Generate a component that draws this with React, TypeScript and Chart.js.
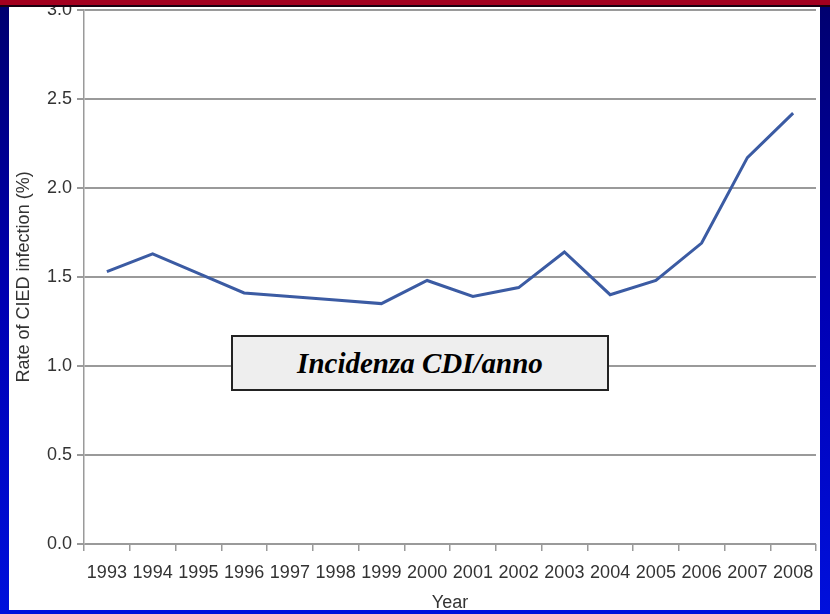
import React, { useEffect, useRef } from "react";
import { Chart, registerables } from "chart.js";

Chart.register(...registerables);

const years = ["1993","1994","1995","1996","1997","1998","1999","2000","2001","2002","2003","2004","2005","2006","2007","2008"];
const infectionRate = [1.53, 1.63, 1.52, 1.41, 1.39, 1.37, 1.35, 1.48, 1.39, 1.44, 1.64, 1.40, 1.48, 1.69, 2.17, 2.42];
const yTitle = "Rate of CIED infection (%)";
const xTitle = "Year";
const boxLabel = "Incidenza CDI/anno";

export default function App() {
  const ref = useRef<HTMLCanvasElement>(null);
  useEffect(() => {
    if (!ref.current) return;
    const font = { family: "'Liberation Sans', Arial, sans-serif", size: 18 };
    const chart = new Chart(ref.current, {
      type: "line",
      data: {
        labels: years,
        datasets: [{
          data: infectionRate,
          borderColor: "#3b5ba3",
          borderWidth: 3,
          pointRadius: 0,
          tension: 0,
          fill: false,
        }],
      },
      options: {
        animation: false,
        responsive: false,
        maintainAspectRatio: false,
        layout: { padding: { left: 13, top: 0, right: 14, bottom: 0 } },
        plugins: { legend: { display: false }, tooltip: { enabled: false } },
        scales: {
          x: {
            type: "category",
            offset: true,
            grid: { offset: true, drawOnChartArea: false, drawTicks: true, tickLength: 7, color: "#9a9a9a", lineWidth: 1.5 },
            border: { display: false },
            ticks: { color: "#333", font, padding: 11, maxRotation: 0, autoSkip: false },
            title: { display: true, text: xTitle, color: "#333", font, padding: { top: 0, bottom: 0 } },
            afterFit: (s: any) => { s.height = 70; },
          },
          y: {
            min: 0,
            max: 3,
            ticks: { stepSize: 0.5, color: "#333", font, padding: 5, callback: (v: any) => Number(v).toFixed(1) },
            grid: { color: "#9a9a9a", lineWidth: 2, tickLength: 7, drawTicks: true },
            border: { display: true, color: "#9a9a9a", width: 1.5 },
            title: { display: true, text: yTitle, color: "#333", font, padding: { top: 0, bottom: 0 } },
            afterFit: (s: any) => { s.width = 71; },
          },
        },
      },
    });
    return () => chart.destroy();
  }, []);

  return (
    <div style={{ position: "absolute", left: 0, top: 0, width: 830, height: 614, overflow: "hidden",
      background: "linear-gradient(#00006e, #0000b4 50%, #0010dc)" }}>
      <div style={{ position: "absolute", left: 9, top: 6, width: 811, height: 604, background: "#ffffff" }} />
      <canvas ref={ref} width={830} height={620} style={{ position: "absolute", left: 0, top: -6, width: 830, height: 620 }} />
      <div style={{ position: "absolute", left: 0, top: 0, width: 830, height: 5, background: "#a3001f" }} />
      <div style={{ position: "absolute", left: 0, top: 5, width: 830, height: 1.5, background: "#1a0010" }} />
      <div style={{ position: "absolute", left: 231, top: 335, width: 374, height: 52, border: "2px solid #222",
        background: "#eeeeee", display: "flex", alignItems: "center", justifyContent: "center",
        fontFamily: "'Liberation Serif', 'Times New Roman', serif", fontStyle: "italic", fontWeight: "bold",
        fontSize: 29, color: "#000" }}>
        {boxLabel}
      </div>
    </div>
  );
}
